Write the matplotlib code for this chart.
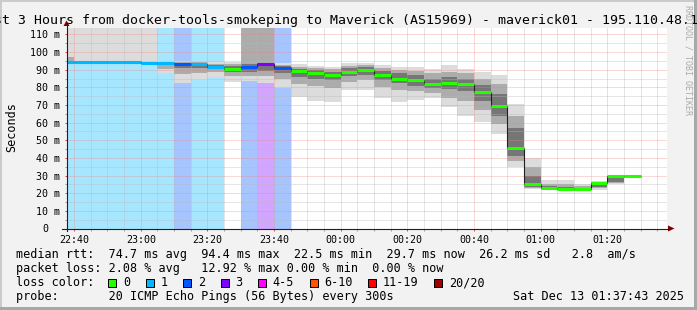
import matplotlib
matplotlib.use('Agg')
import matplotlib.pyplot as plt
import matplotlib.transforms as mtransforms
from matplotlib.patches import Rectangle, Polygon
from matplotlib.lines import Line2D
from matplotlib.ticker import MultipleLocator
import numpy as np

plt.rcParams['font.family'] = 'DejaVu Sans Mono'

W, H = 697, 310

# 5 minute steps, keyed by the start of the step
starts = ['22:35', '22:40', '22:45', '22:50', '22:55', '23:00', '23:05', '23:10',
          '23:15', '23:20', '23:25', '23:30', '23:35', '23:40', '23:45', '23:50',
          '23:55', '00:00', '00:05', '00:10', '00:15', '00:20', '00:25', '00:30',
          '00:35', '00:40', '00:45', '00:50', '00:55', '01:00', '01:05', '01:10',
          '01:15', '01:20', '01:25']
median = [94.2, 94.4, 94.3, 94.2, 94.2, 94.0, 93.6, 93.2, 93.3, 91.8, 90.4, 91.5,
          93.0, 90.8, 89.1, 88.4, 87.1, 89.0, 89.6, 86.9, 85.0, 84.0, 81.8, 82.3,
          82.0, 77.3, 69.2, 45.7, 25.1, 22.8, 22.3, 22.3, 25.6, 29.5, 29.7]
loss = [1, 1, 1, 1, 1, 1, 1, 2, 1, 1, 0, 2, 3, 2, 0, 0, 0, 0, 0, 0, 0, 0, 0, 0,
        0, 0, 0, 0, 0, 0, 0, 0, 0, 0, 0]
# smoke (ms), outer to inner
smoke_max = [200, 200, 200, 200, 200, 200, 95.2, 95.0, 94.8, 94.2, 94.5, 200,
             200, 93.6, 93.0, 92.0, 91.7, 93.6, 93.6, 92.6, 91.7, 91.7, 90.7, 92.6,
             90.7, 88.8, 87.3, 70.5, 40.2, 27.3, 27.3, 25.0, 26.7, 29.9, 30.4]
smoke_p90 = [97.5, 94.9, 94.8, 94.7, 94.7, 94.6, 94.5, 94.3, 94.2, 93.5, 93.0, 200,
             200, 92.8, 91.5, 91.0, 90.5, 92.0, 92.5, 91.0, 90.0, 89.5, 88.0, 89.0,
             88.0, 85.0, 82.0, 64.0, 35.0, 25.5, 25.0, 24.0, 26.2, 29.7, 30.1]
smoke_p75 = [95.0, 94.7, 94.6, 94.5, 94.5, 94.4, 94.0, 93.8, 93.8, 92.8, 92.0, 93.0,
             94.0, 92.0, 90.5, 90.0, 89.0, 91.0, 91.5, 89.5, 88.0, 87.0, 85.0, 86.0,
             85.0, 81.5, 76.0, 57.0, 29.5, 24.0, 23.5, 23.0, 25.9, 29.6, 29.9]
smoke_p25 = [94.0, 94.2, 94.1, 94.0, 94.0, 93.8, 92.5, 91.0, 91.0, 90.5, 88.5, 89.0,
             89.5, 88.0, 86.0, 85.0, 84.0, 86.5, 87.0, 84.0, 82.5, 81.0, 79.5, 79.0,
             78.0, 72.5, 64.0, 41.0, 23.5, 22.4, 22.0, 22.0, 23.5, 26.5, 29.5]
smoke_p10 = [93.8, 94.0, 93.9, 93.8, 93.8, 93.6, 90.5, 87.5, 88.0, 88.5, 86.5, 86.5,
             86.5, 85.0, 82.0, 80.5, 79.5, 83.0, 84.0, 80.0, 78.5, 78.0, 77.0, 74.0,
             72.0, 67.0, 59.0, 38.0, 23.0, 22.2, 21.8, 21.8, 22.8, 25.8, 29.4]
smoke_min = [93.6, 93.8, 93.7, 93.6, 93.6, 93.4, 88.0, 82.5, 84.0, 86.0, 83.0, 83.5,
             82.5, 79.5, 74.6, 72.2, 71.8, 78.4, 78.4, 73.7, 71.8, 72.7, 74.2, 68.6,
             63.8, 60.4, 53.8, 34.8, 22.2, 22.0, 21.6, 21.6, 22.0, 25.4, 29.3]

xtick_labels = ['22:40', '23:00', '23:20', '23:40', '00:00', '00:20', '00:40', '01:00', '01:20']
ytick_labels = ['0', '10 m', '20 m', '30 m', '40 m', '50 m', '60 m', '70 m', '80 m',
                '90 m', '100 m', '110 m']

loss_names = ['0', '1', '2', '3', '4-5', '6-10', '11-19', '20/20']
loss_colors = ['#26ff00', '#00b8ff', '#0059ff', '#7e00ff', '#ff00ff', '#ff5500', '#ff0000', '#a10000']
loss_bg = {1: '#a6e6ff', 2: '#a6c5ff', 3: '#d2a6ff'}

rtt_stats = ['74.7', '94.4', '22.5', '29.7', '26.2', '2.8']
loss_stats = ['2.08', '12.92', '0.00', '0.00']


def to_min(s):
    h, m = map(int, s.split(':'))
    v = h * 60 + m - 23 * 60
    if h < 12:
        v += 24 * 60
    return v


def px(x, y):
    return x / W, 1 - y / H


t = np.array([to_min(s) for s in starts], dtype=float)
med = np.array(median)
x_start = -22 - 17 / 60.0
x_end = x_start + 180

fig = plt.figure(figsize=(W / 100, H / 100), dpi=100)
fig.patch.set_facecolor('#f2f2f2')

ax_l, ax_r, ax_t, ax_b = 66.5, 666.5, 27.7, 228.5
ax = fig.add_axes([ax_l / W, 1 - ax_b / H, (ax_r - ax_l) / W, (ax_b - ax_t) / H])
ax.set_facecolor('white')
ax.set_xlim(x_start, x_end)
ax.set_ylim(0, (ax_b - ax_t) / 1.764)
for s in ax.spines.values():
    s.set_visible(False)

# loss background
for i in range(len(t)):
    if loss[i] > 0:
        ax.axvspan(t[i], t[i] + 5, color=loss_bg[loss[i]], lw=0, zorder=0.5)

# smoke
bands = [(smoke_min, smoke_max, '#dcdcdc'),
         (smoke_p10, smoke_p90, '#acacac'),
         (smoke_p25, smoke_p75, '#767676')]
for lo, hi, c in bands:
    lo = np.array(lo)
    hi = np.array(hi)
    ax.bar(t, hi - lo, bottom=lo, width=5, align='edge', color=c, lw=0, zorder=1)

# median
edges = np.append(t, t[-1] + 5)
ax.stairs(med, edges, baseline=None, color='#202020', lw=0.8, zorder=3)


def loss_class(n):
    if n <= 3:
        return n
    if n <= 5:
        return 4
    if n <= 10:
        return 5
    if n <= 19:
        return 6
    return 7


ax.hlines(med, t, t + 5, colors=[loss_colors[loss_class(n)] for n in loss], lw=2.2, zorder=4)

# grid and ticks
ax.set_xticks(np.arange(-20, 141, 20), labels=xtick_labels)
ax.xaxis.set_minor_locator(MultipleLocator(5))
ax.set_yticks(np.arange(0, 111, 10), labels=ytick_labels)
ax.yaxis.set_minor_locator(MultipleLocator(5))
ax.set_axisbelow(False)
ax.grid(True, which='major', color='#f08080', alpha=0.6, linestyle=(0, (1, 1)), lw=0.72)
ax.grid(True, which='minor', color='#b8b8b8', alpha=0.7, linestyle=(0, (1, 1)), lw=0.72)
ax.tick_params(which='major', length=1.5, width=0.72, color='#e04848', labelsize=7.2, pad=3.2)
ax.tick_params(which='minor', length=1.2, width=0.72, color='#a0a0a0')
zl = ax.get_yticklabels()[0]
zl.set_transform(zl.get_transform() + mtransforms.Affine2D().translate(-12, 0))

# axes with arrows
fig.add_artist(Line2D([62 / W, 670 / W], [1 - ax_b / H] * 2, color='#202020', lw=0.8))
fig.add_artist(Line2D([ax_l / W] * 2, [1 - 231 / H, 1 - 24 / H], color='#202020', lw=0.8))
fig.add_artist(Polygon([px(668, 225.5), px(674.5, 228.5), px(668, 231.5)], closed=True,
                       color='#7f0000', lw=0))
fig.add_artist(Polygon([px(63.5, 26), px(66.5, 20.5), px(69.5, 26)], closed=True,
                       color='#7f0000', lw=0))

# frame
fig.add_artist(Rectangle((0, 0), 2 / W, 1, transform=fig.transFigure, color='#cbcbcb', lw=0))
fig.add_artist(Rectangle((0, 1 - 2 / H), 1, 2 / H, transform=fig.transFigure, color='#cbcbcb', lw=0))
fig.add_artist(Rectangle((1 - 3 / W, 0), 3 / W, 1, transform=fig.transFigure, color='#a8a8a8', lw=0))
fig.add_artist(Rectangle((0, 0), 1, 3 / H, transform=fig.transFigure, color='#a8a8a8', lw=0))

# texts
fig.text(*px(-21.5, 24.3),
         'Last 3 Hours from docker-tools-smokeping to Maverick (AS15969) - maverick01 - 195.110.48.1',
         fontsize=9.57, ha='left', va='baseline')
fig.text(*px(11.3, 127.5), 'Seconds', rotation=90, ha='center', va='center', fontsize=8.5)
fig.text(*px(688, 60), 'RRDTOOL / TOBI OETIKER', rotation=270, ha='center', va='center',
         fontsize=6, color='#aaaaaa')

row1 = ('median rtt:  {} ms avg  {} ms max  {} ms min  {} ms now  {} ms sd   {}  am/s'
        .format(*rtt_stats))
row2 = 'packet loss: {} % avg   {} % max {} % min  {} % now'.format(*loss_stats)
row4 = 'probe:       20 ICMP Echo Pings (56 Bytes) every 300s'
fs = 8.5
fig.text(*px(15.5, 258.3), row1, fontsize=fs, va='baseline')
fig.text(*px(15.5, 272.2), row2, fontsize=fs, va='baseline')
fig.text(*px(15.5, 286.1), 'loss color:', fontsize=fs, va='baseline')
fig.text(*px(15.5, 300.0), row4, fontsize=fs, va='baseline')
fig.text(*px(513, 300.0), 'Sat Dec 13 01:37:43 2025', fontsize=fs, va='baseline')

bx = 108.3
for name, col in zip(loss_names, loss_colors):
    fig.add_artist(Rectangle(px(bx, 286.5), 8 / W, 8 / H, transform=fig.transFigure,
                             facecolor=col, edgecolor='black', lw=0.72))
    fig.text(*px(bx + 14.5, 286.1), name, fontsize=fs, va='baseline')
    bx += 30.3 + 7.117 * len(name)

fig.savefig('out.png', dpi=100, facecolor=fig.get_facecolor())
